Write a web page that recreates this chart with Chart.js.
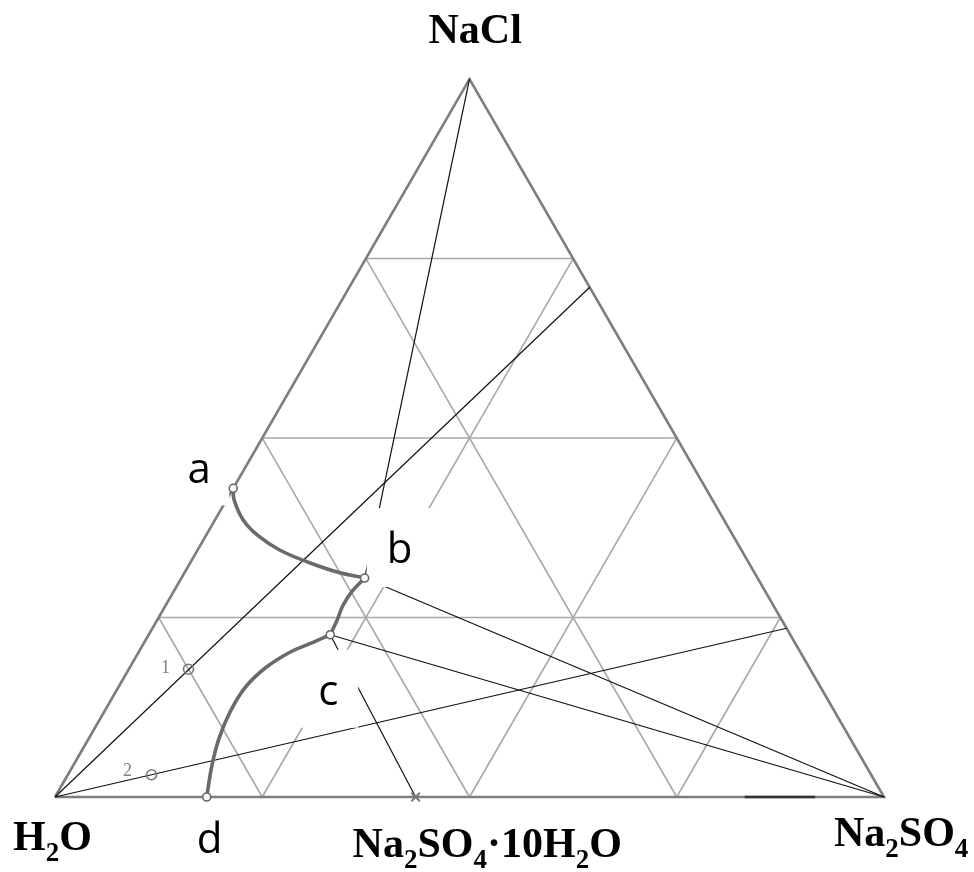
<!DOCTYPE html>
<html>
<head>
<meta charset="utf-8">
<script src="https://cdn.jsdelivr.net/npm/chart.js@4.4.0/dist/chart.umd.min.js"></script>
<style>
  body { margin: 0; background: #fff; overflow: hidden; }
  canvas { display: block; }
</style>
</head>
<body>
<canvas id="diagram" width="974" height="872"></canvas>
<script>
// compositions in % NaCl / % Na2SO4 (water is the rest)
const pointNames = ['a', 'b', 'c', 'd'];
const pointNaCl = [43.0, 30.5, 22.6, 0];
const pointNa2SO4 = [0, 22.1, 21.9, 18.3];

const refNames = ['1', '2'];
const refNaCl = [17.8, 3.1];
const refNa2SO4 = [7.2, 10.1];

const hydrateNa2SO4 = 43.5;   // Na2SO4·10H2O on the base

const curveAbNaCl = [43.0, 41.4, 38.6, 36.4, 34.4, 32.7, 31.3, 30.5];
const curveAbNa2SO4 = [0, 0.9, 3.4, 6.3, 9.9, 14.2, 18.5, 22.1];
const curveBcNaCl = [30.5, 28.6, 26.6, 24.7, 22.6];
const curveBcNa2SO4 = [22.1, 21.5, 21.4, 21.7, 21.9];
const curveCdNaCl = [22.6, 21.5, 20.2, 18.0, 15.2, 11.8, 8.2, 4.5, 0];
const curveCdNa2SO4 = [21.9, 20.3, 18.3, 16.4, 15.3, 15.2, 15.7, 16.7, 18.3];

// rays from the water corner through points 1 and 2
const rayEndNaCl = [71, 23.5];
const rayEndNa2SO4 = [29, 76.5];

const gridSteps = [25, 50, 75];
const baseDarkNa2SO4 = [83.2, 91.7];

function tern(n, s) {
    return { x: s / 100 + n / 200, y: n / 100 * Math.sqrt(3) / 2 };
}

function line(label, pts, color, width, order) {
    return {
        label: label,
        data: pts,
        showLine: true,
        borderColor: color,
        borderWidth: width,
        pointRadius: 0,
        tension: 0,
        fill: false,
        order: order
    };
}

function curve(label, nacl, na2so4) {
    var pts = [];
    for (var i = 0; i < nacl.length; i++) pts.push(tern(nacl[i], na2so4[i]));
    var ds = line(label, pts, '#6a6a6a', 3.6, 20);
    ds.tension = 0.4;
    ds.borderCapStyle = 'round';
    return ds;
}

var datasets = [];

// quarter grid
for (var i = 0; i < gridSteps.length; i++) {
    var f = gridSteps[i];
    datasets.push(line('grid', [tern(f, 0), tern(f, 100 - f)], '#a8a8a8', 1.6, 50));
    datasets.push(line('grid', [tern(0, f), tern(100 - f, f)], '#a8a8a8', 1.6, 50));
    datasets.push(line('grid', [tern(100 - f, 0), tern(0, 100 - f)], '#a8a8a8', 1.6, 50));
}

datasets.push(line('outline', [tern(0, 0), tern(0, 100), tern(100, 0), tern(0, 0)], '#7e7e7e', 2.6, 40));
datasets.push(line('base', [tern(0, baseDarkNa2SO4[0]), tern(0, baseDarkNa2SO4[1])], '#333', 2.6, 35));

// tie lines
var pa = [], pr = [];
for (i = 0; i < pointNames.length; i++) pa.push(tern(pointNaCl[i], pointNa2SO4[i]));
for (i = 0; i < refNames.length; i++) pr.push(tern(refNaCl[i], refNa2SO4[i]));
var hydrate = tern(0, hydrateNa2SO4);

datasets.push(line('NaCl-b', [tern(100, 0), pa[1]], '#111', 1.2, 30));
datasets.push(line('b-Na2SO4', [pa[1], tern(0, 100)], '#111', 1.2, 30));
datasets.push(line('c-Na2SO4', [pa[2], tern(0, 100)], '#111', 1.2, 30));
datasets.push(line('c-hydrate', [pa[2], hydrate], '#111', 1.2, 30));
for (i = 0; i < rayEndNaCl.length; i++) {
    datasets.push(line('ray' + (i + 1), [tern(0, 0), tern(rayEndNaCl[i], rayEndNa2SO4[i])], '#111', 1.2, 30));
}

// saturation curves
datasets.push(curve('a-b', curveAbNaCl, curveAbNa2SO4));
datasets.push(curve('b-c', curveBcNaCl, curveBcNa2SO4));
datasets.push(curve('c-d', curveCdNaCl, curveCdNa2SO4));

// markers
datasets.push({
    label: 'points', data: pa, showLine: false, order: 10,
    pointStyle: 'circle', pointRadius: 4, pointBackgroundColor: '#fff',
    pointBorderColor: '#666', pointBorderWidth: 1.6
});
datasets.push({
    label: 'refs', data: pr, showLine: false, order: 10,
    pointStyle: 'circle', pointRadius: 5, pointBackgroundColor: 'rgba(255,255,255,0)',
    pointBorderColor: '#7a7a7a', pointBorderWidth: 1.6
});
datasets.push({
    label: 'hydrate', data: [hydrate], showLine: false, order: 10,
    pointStyle: 'crossRot', pointRadius: 6, pointBorderColor: '#777', pointBorderWidth: 2
});

// label layout, pixel offsets from each marker
const letterOffset = { a: [-34, -5], b: [35, -15], c: [-2, 70], d: [3, 56] };
const boxLayout = { a: [-57, -42, 53, 59], b: [2, -70, 69, 79], c: [-33, 15, 61, 78] };
const refOffset = [[-23, 4], [-24, 1]];
const formulas = [
    { parts: [['NaCl', 0]], at: [100, 0], dx: -41, dy: -36 },
    { parts: [['H', 0], ['2', 1], ['O', 0]], at: [0, 0], dx: -42, dy: 53 },
    { parts: [['Na', 0], ['2', 1], ['SO', 0], ['4', 1], ['\u00b710H', 0], ['2', 1], ['O', 0]], at: [0, hydrateNa2SO4], dx: -63, dy: 60 },
    { parts: [['Na', 0], ['2', 1], ['SO', 0], ['4', 1]], at: [0, 100], dx: -50, dy: 49 }
];

function toPx(chart, p) {
    return [chart.scales.x.getPixelForValue(p.x), chart.scales.y.getPixelForValue(p.y)];
}

function drawBoxes(chart) {
    var ctx = chart.ctx;
    ctx.save();
    ctx.fillStyle = '#fff';
    for (var i = 0; i < pointNames.length; i++) {
        var b = boxLayout[pointNames[i]];
        if (!b) continue;
        var p = toPx(chart, pa[i]);
        ctx.fillRect(p[0] + b[0], p[1] + b[1], b[2], b[3]);
    }
    ctx.restore();
}

function drawFormula(ctx, parts, x, y) {
    for (var i = 0; i < parts.length; i++) {
        var sub = parts[i][1];
        ctx.font = sub ? 'bold 27px "Liberation Serif"' : 'bold 42px "Liberation Serif"';
        ctx.fillText(parts[i][0], x, sub ? y + 11 : y);
        x += ctx.measureText(parts[i][0]).width;
    }
}

function drawTexts(chart) {
    var ctx = chart.ctx;
    ctx.save();
    ctx.textBaseline = 'alphabetic';
    ctx.fillStyle = '#000';

    ctx.textAlign = 'center';
    ctx.font = '42px "Open Sans"';
    for (var i = 0; i < pointNames.length; i++) {
        var p = toPx(chart, pa[i]);
        var o = letterOffset[pointNames[i]];
        ctx.fillText(pointNames[i], p[0] + o[0], p[1] + o[1]);
    }

    ctx.fillStyle = '#808080';
    ctx.font = '18px "Liberation Serif"';
    for (i = 0; i < refNames.length; i++) {
        var q = toPx(chart, pr[i]);
        ctx.fillText(refNames[i], q[0] + refOffset[i][0], q[1] + refOffset[i][1]);
    }

    ctx.fillStyle = '#000';
    ctx.textAlign = 'left';
    for (i = 0; i < formulas.length; i++) {
        var f = formulas[i];
        var v = toPx(chart, tern(f.at[0], f.at[1]));
        drawFormula(ctx, f.parts, v[0] + f.dx, v[1] + f.dy);
    }
    ctx.restore();
}

const labelPlugin = {
    id: 'phaseLabels',
    beforeDatasetsDraw(chart) {
        chart.$boxesDone = false;
    },
    beforeDatasetDraw(chart, args) {
        var ds = chart.data.datasets[args.index];
        if (!chart.$boxesDone && ds.order <= 20) {
            drawBoxes(chart);
            chart.$boxesDone = true;
        }
    },
    afterDatasetsDraw(chart) {
        drawTexts(chart);
    }
};

const diagram = new Chart(document.getElementById('diagram'), {
    type: 'scatter',
    data: { datasets: datasets },
    options: {
        responsive: false,
        animation: false,
        events: [],
        layout: { padding: 0, autoPadding: false },
        scales: {
            x: { type: 'linear', min: -55 / 829, max: 919 / 829, display: false },
            y: { type: 'linear', min: -75 / 829, max: 797 / 829, display: false }
        },
        plugins: {
            legend: { display: false },
            tooltip: { enabled: false }
        }
    },
    plugins: [labelPlugin]
});
</script>
</body>
</html>
